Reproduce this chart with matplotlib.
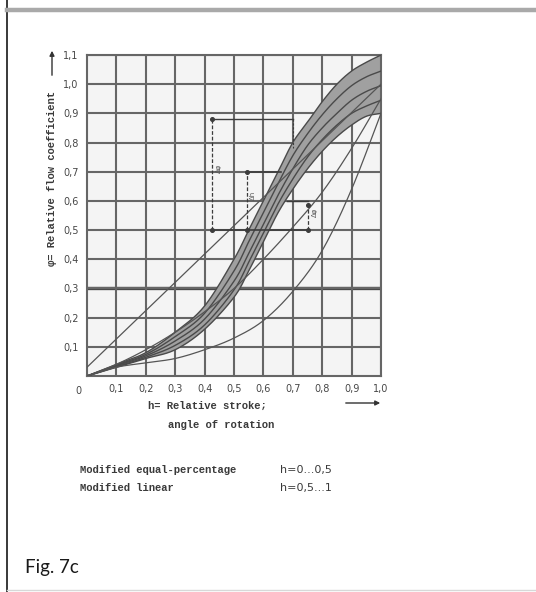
import numpy as np
import matplotlib
matplotlib.use("Agg")
import matplotlib.pyplot as plt
from matplotlib.lines import Line2D

# ---- axis ticks -------------------------------------------------------
h_ticks = [0.1, 0.2, 0.3, 0.4, 0.5, 0.6, 0.7, 0.8, 0.9, 1.0]
h_tick_labels = ["0,1", "0,2", "0,3", "0,4", "0,5", "0,6", "0,7", "0,8", "0,9", "1,0"]
phi_ticks = [0.1, 0.2, 0.3, 0.4, 0.5, 0.6, 0.7, 0.8, 0.9, 1.0, 1.1]
phi_tick_labels = ["0,1", "0,2", "0,3", "0,4", "0,5", "0,6", "0,7", "0,8", "0,9", "1,0", "1,1"]

# ---- modified characteristic band (family of curves) -----------------
h_band = [0, 0.1, 0.2, 0.3, 0.4, 0.5, 0.55, 0.6, 0.65, 0.7, 0.75, 0.8, 0.85, 0.9, 0.95, 1.0]
band_upper = [0, 0.040, 0.080, 0.150, 0.240, 0.400, 0.500, 0.600, 0.700, 0.800, 0.870, 0.940, 1.000, 1.045, 1.075, 1.100]
band_mid_a = [0, 0.037, 0.074, 0.135, 0.215, 0.360, 0.460, 0.560, 0.660, 0.755, 0.830, 0.895, 0.950, 0.995, 1.025, 1.045]
band_mid_b = [0, 0.035, 0.069, 0.120, 0.195, 0.325, 0.420, 0.520, 0.620, 0.710, 0.790, 0.850, 0.900, 0.945, 0.975, 0.995]
band_mid_c = [0, 0.032, 0.064, 0.105, 0.175, 0.295, 0.390, 0.490, 0.590, 0.675, 0.750, 0.810, 0.860, 0.900, 0.925, 0.945]
band_lower = [0, 0.030, 0.060, 0.090, 0.160, 0.270, 0.360, 0.460, 0.560, 0.640, 0.710, 0.770, 0.820, 0.860, 0.890, 0.900]

# ---- reference characteristics ---------------------------------------
h_curve = [0, 0.1, 0.2, 0.3, 0.4, 0.5, 0.6, 0.7, 0.8, 0.9, 1.0]
phi_linear = [0.03, 0.127, 0.224, 0.321, 0.418, 0.515, 0.612, 0.709, 0.806, 0.903, 1.0]
phi_parabolic = [0.0, 0.04, 0.09, 0.15, 0.22, 0.30, 0.40, 0.51, 0.63, 0.78, 0.95]
phi_equal_pct = [0.0, 0.03, 0.045, 0.06, 0.09, 0.13, 0.19, 0.29, 0.43, 0.64, 0.90]

# ---- dimension markers (h, phi_bottom, phi_top) ----------------------
dim_h = [0.425, 0.543, 0.752]
dim_bottom = [0.5, 0.5, 0.5]
dim_top = [0.88, 0.70, 0.585]
dim_labels = ["Δφ", "Δh", "Δφ"]


def smooth(xs, ys, n=24):
    """Catmull-Rom spline through the given points (for drawing only)."""
    x = np.asarray(xs, float)
    y = np.asarray(ys, float)
    px = np.concatenate([[2 * x[0] - x[1]], x, [2 * x[-1] - x[-2]]])
    py = np.concatenate([[2 * y[0] - y[1]], y, [2 * y[-1] - y[-2]]])
    out_x, out_y = [], []
    t = np.linspace(0, 1, n, endpoint=False)
    for i in range(1, len(px) - 2):
        for arr, out in ((px, out_x), (py, out_y)):
            p0, p1, p2, p3 = arr[i - 1], arr[i], arr[i + 1], arr[i + 2]
            out.extend(0.5 * ((2 * p1) + (-p0 + p2) * t
                              + (2 * p0 - 5 * p1 + 4 * p2 - p3) * t ** 2
                              + (-p0 + 3 * p1 - 3 * p2 + p3) * t ** 3))
    out_x.append(x[-1])
    out_y.append(y[-1])
    return np.array(out_x), np.array(out_y)


W, H = 536, 592
fig = plt.figure(figsize=(W / 100, H / 100), dpi=100)
fig.patch.set_facecolor("white")

# page frame
fig.add_artist(Line2D([7 / W, 7 / W], [0, 1], color="#2a2a2a", lw=1.3))
fig.add_artist(Line2D([7 / W, 1], [1 - 9.5 / H, 1 - 9.5 / H], color="#a9a9a9", lw=3.2))
fig.add_artist(Line2D([7 / W, 1], [2 / H, 2 / H], color="#d8d8d8", lw=1.0))

ax = fig.add_axes([87 / W, 1 - 376 / H, 294 / W, 321 / H])
ax.set_facecolor("#f4f4f4")
ax.set_xlim(0, 1.0)
ax.set_ylim(0, 1.1)

grid_c = "#666666"
ax.set_xticks(h_ticks)
ax.set_yticks(phi_ticks)
ax.set_xticklabels(h_tick_labels)
ax.set_yticklabels(phi_tick_labels)
ax.tick_params(length=0, labelsize=7, colors="#474747", pad=6)
ax.grid(True, color=grid_c, lw=1.5, zorder=1)
for sp in ax.spines.values():
    sp.set_color(grid_c)
    sp.set_linewidth(1.5)
ax.axhline(0.3, color="#484848", lw=2.4, zorder=1.5)
ax.annotate("0", xy=(0, 0), xytext=(-6, -11), textcoords="offset points",
            ha="center", va="center", fontsize=7, color="#474747")

# band of modified characteristics
bx_u, by_u = smooth(h_band, band_upper)
bx_l, by_l = smooth(h_band, band_lower)
ax.fill(np.concatenate([bx_u, bx_l[::-1]]), np.concatenate([by_u, by_l[::-1]]),
        facecolor="#a0a0a0", edgecolor="none", zorder=2)
for series in (band_upper, band_mid_a, band_mid_b, band_mid_c, band_lower):
    sx, sy = smooth(h_band, series)
    ax.plot(sx, sy, color="#4a4a4a", lw=1.0, zorder=3)

# reference characteristics
for series in (phi_linear, phi_parabolic, phi_equal_pct):
    sx, sy = smooth(h_curve, series)
    ax.plot(sx, sy, color="#555555", lw=0.9, zorder=3)

# dimension lines
dim_c = "#3c3c3c"
ax.plot([dim_h[0], dim_h[-1]], [dim_bottom[0], dim_bottom[0]], color=dim_c, lw=1.2, zorder=4)
ax.plot([dim_h[0], 0.70], [dim_top[0], dim_top[0]], color=dim_c, lw=1.0, zorder=4)
ax.plot([0.70, 0.70], [dim_top[0], 0.78], color=dim_c, lw=0.8, ls=(0, (2, 1.5)), zorder=4)
ax.plot([dim_h[1], 0.66], [dim_top[1], dim_top[1]], color=dim_c, lw=1.2, zorder=4)
ax.plot([0.68, dim_h[2]], [0.60, 0.60], color=dim_c, lw=1.0, zorder=4)
for hx, b, t, lab in zip(dim_h, dim_bottom, dim_top, dim_labels):
    ax.plot([hx, hx], [b, t], color=dim_c, lw=0.9, ls=(0, (3, 1.5)), zorder=4)
    ax.plot([hx, hx], [b, t], "o", color=dim_c, ms=2.6, zorder=5)
    ax.text(hx + 0.012, (b + t) / 2 + 0.02, lab, rotation=90, fontsize=5,
            color="#555555", ha="left", va="center", zorder=5)

# axis titles
mono = dict(family=["Liberation Mono", "DejaVu Sans Mono"], weight="bold", color="#3a3a3a")
fig.text(52 / W, 1 - 178 / H, "φ= Relative flow coefficient", rotation=90,
         ha="center", va="center", fontsize=7.6, **mono)
fig.add_artist(matplotlib.patches.FancyArrowPatch(
    (52 / W, 1 - 78 / H), (52 / W, 1 - 48 / H), transform=fig.transFigure,
    arrowstyle="-|>", mutation_scale=7, color="#333333", lw=1.0))
fig.text(148 / W, 1 - 406 / H, "h= Relative stroke;", ha="left", va="center",
         fontsize=7.6, **mono)
fig.text(168 / W, 1 - 425 / H, "angle of rotation", ha="left", va="center",
         fontsize=7.6, **mono)
fig.add_artist(matplotlib.patches.FancyArrowPatch(
    (343 / W, 1 - 403 / H), (383 / W, 1 - 403 / H), transform=fig.transFigure,
    arrowstyle="-|>", mutation_scale=7, color="#333333", lw=1.0))

# legend lines
fig.text(80 / W, 1 - 470 / H, "Modified equal-percentage", ha="left", va="center",
         fontsize=7.6, **mono)
fig.text(80 / W, 1 - 488 / H, "Modified linear", ha="left", va="center",
         fontsize=7.6, **mono)
fig.text(280 / W, 1 - 470 / H, "h=0...0,5", ha="left", va="center",
         fontsize=8, color="#3a3a3a")
fig.text(280 / W, 1 - 488 / H, "h=0,5...1", ha="left", va="center",
         fontsize=8, color="#3a3a3a")

fig.text(25 / W, 1 - 568 / H, "Fig. 7c", ha="left", va="center", fontsize=13.5,
         family=["Lato", "DejaVu Sans"], color="#1a1a1a")

fig.savefig("out.png", dpi=100, facecolor="white")
